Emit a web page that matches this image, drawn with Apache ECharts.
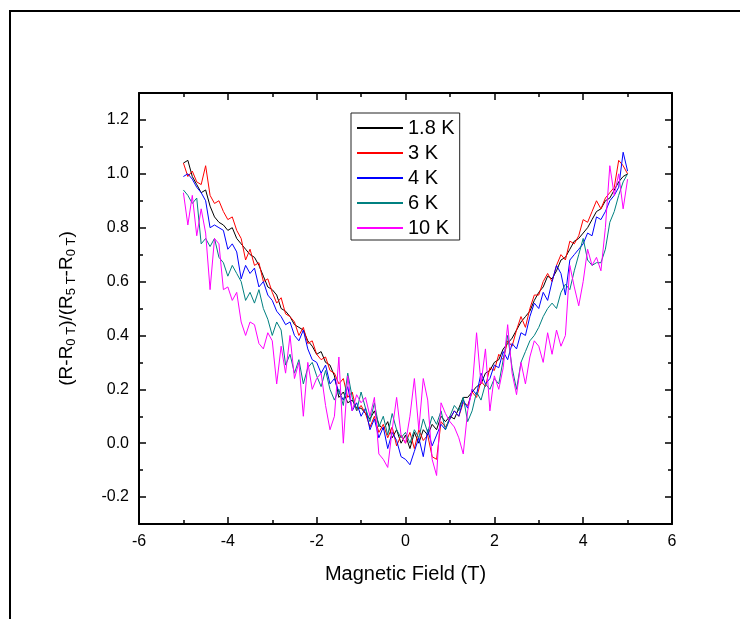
<!DOCTYPE html>
<html>
<head>
<meta charset="utf-8">
<script src="https://cdn.jsdelivr.net/npm/echarts@6/dist/echarts.min.js"></script>
<style>
  html, body { margin: 0; padding: 0; background: #fff; }
  #chart { width: 740px; height: 619px; }
</style>
</head>
<body>
<div id="chart"></div>
<script>
// Field sweep (T)
const fieldT = [
  -5.0, -4.9, -4.8, -4.7, -4.6, -4.5, -4.4, -4.3, -4.2, -4.1,
  -4.0, -3.9, -3.8, -3.7, -3.6, -3.5, -3.4, -3.3, -3.2, -3.1,
  -3.0, -2.9, -2.8, -2.7, -2.6, -2.5, -2.4, -2.3, -2.2, -2.1,
  -2.0, -1.9, -1.8, -1.7, -1.6, -1.5, -1.4, -1.3, -1.2, -1.1,
  -1.0, -0.9, -0.8, -0.7, -0.6, -0.5, -0.4, -0.3, -0.2, -0.1,
   0.0,  0.1,  0.2,  0.3,  0.4,  0.5,  0.6,  0.7,  0.8,  0.9,
   1.0,  1.1,  1.2,  1.3,  1.4,  1.5,  1.6,  1.7,  1.8,  1.9,
   2.0,  2.1,  2.2,  2.3,  2.4,  2.5,  2.6,  2.7,  2.8,  2.9,
   3.0,  3.1,  3.2,  3.3,  3.4,  3.5,  3.6,  3.7,  3.8,  3.9,
   4.0,  4.1,  4.2,  4.3,  4.4,  4.5,  4.6,  4.7,  4.8,  4.9,
   5.0
];

// Normalised magnetoresistance at each temperature
const mr_1p8K = [
  1.04, 1.05, 0.99, 0.96, 0.93, 0.94, 0.88, 0.84, 0.82, 0.81,
  0.79, 0.80, 0.76, 0.74, 0.72, 0.70, 0.69, 0.66, 0.62, 0.58,
  0.57, 0.55, 0.50, 0.49, 0.47, 0.44, 0.43, 0.42, 0.38, 0.36,
  0.33, 0.34, 0.30, 0.29, 0.25, 0.17, 0.19, 0.15, 0.16, 0.13,
  0.13, 0.11, 0.09, 0.12, 0.07, 0.05, 0.08, 0.02, 0.05, 0.00,
  0.03, -0.02, 0.04, 0.00, 0.05, 0.03, 0.07, 0.05, 0.10, 0.08,
  0.10, 0.09, 0.13, 0.17, 0.17, 0.19, 0.21, 0.22, 0.26, 0.27,
  0.30, 0.31, 0.35, 0.37, 0.39, 0.42, 0.45, 0.47, 0.49, 0.53,
  0.56, 0.58, 0.62, 0.61, 0.64, 0.68, 0.69, 0.72, 0.75, 0.76,
  0.78, 0.80, 0.83, 0.86, 0.87, 0.90, 0.91, 0.94, 0.97, 0.99,
  1.00
];
const mr_3K = [
  1.04, 0.99, 1.01, 0.97, 0.96, 1.03, 0.92, 0.89, 0.90, 0.86,
  0.83, 0.84, 0.79, 0.76, 0.68, 0.72, 0.66, 0.67, 0.60, 0.61,
  0.56, 0.52, 0.54, 0.48, 0.47, 0.45, 0.40, 0.43, 0.37, 0.38,
  0.33, 0.31, 0.32, 0.27, 0.26, 0.22, 0.24, 0.17, 0.19, 0.12,
  0.14, 0.11, 0.06, 0.10, 0.04, 0.07, 0.02, 0.06, -0.01, 0.03,
  0.00, 0.04, -0.02, 0.05, 0.01, 0.03, -0.05, -0.06, 0.08, 0.06,
  0.09, 0.12, 0.10, 0.15, 0.14, 0.19, 0.17, 0.23, 0.21, 0.28,
  0.27, 0.33, 0.31, 0.38, 0.36, 0.42, 0.47, 0.43, 0.50, 0.55,
  0.55, 0.60, 0.63, 0.60, 0.66, 0.70, 0.68, 0.75, 0.74, 0.77,
  0.83, 0.82, 0.86, 0.90, 0.87, 0.91, 0.93, 0.95, 1.05, 1.03,
  1.00
];
const mr_4K = [
  0.99, 1.00, 0.98, 0.95, 0.93, 0.90, 0.80, 0.81, 0.80, 0.79,
  0.72, 0.74, 0.71, 0.61, 0.66, 0.63, 0.65, 0.58, 0.60, 0.55,
  0.53, 0.49, 0.47, 0.44, 0.45, 0.40, 0.38, 0.42, 0.35, 0.31,
  0.30, 0.26, 0.29, 0.22, 0.24, 0.19, 0.16, 0.21, 0.12, 0.15,
  0.10, 0.13, 0.05, 0.09, 0.02, 0.06, -0.02, 0.04, 0.01, -0.05,
  -0.06, -0.08, -0.03, 0.02, -0.05, 0.05, -0.01, 0.03, 0.07, 0.05,
  0.09, 0.12, 0.10, 0.16, 0.13, 0.20, 0.18, 0.26, 0.22, 0.24,
  0.29, 0.28, 0.34, 0.31, 0.37, 0.35, 0.41, 0.40, 0.47, 0.52,
  0.50, 0.56, 0.53, 0.60, 0.66, 0.63, 0.55, 0.68, 0.70, 0.72,
  0.74, 0.78, 0.77, 0.84, 0.83, 0.86, 0.90, 0.92, 0.95, 1.08,
  1.01
];
const mr_6K = [
  0.94, 0.92, 0.89, 0.91, 0.74, 0.76, 0.73, 0.76, 0.69, 0.67,
  0.62, 0.66, 0.63, 0.60, 0.53, 0.56, 0.52, 0.57, 0.50, 0.46,
  0.40, 0.45, 0.42, 0.29, 0.33, 0.26, 0.31, 0.22, 0.28, 0.30,
  0.25, 0.21, 0.27, 0.20, 0.16, 0.20, 0.14, 0.26, 0.17, 0.12,
  0.19, 0.13, 0.08, 0.15, 0.06, 0.10, 0.03, 0.11, 0.05, 0.02,
  0.04, 0.00, 0.05, 0.02, 0.09, 0.04, 0.10, 0.07, 0.12, 0.05,
  0.10, 0.14, 0.12, 0.17, 0.08, 0.12, 0.19, 0.16, 0.22, 0.20,
  0.24, 0.22, 0.31, 0.40, 0.28, 0.20, 0.30, 0.34, 0.38, 0.40,
  0.43, 0.47, 0.50, 0.52, 0.50, 0.56, 0.59, 0.57, 0.64, 0.70,
  0.76, 0.68, 0.66, 0.67, 0.67, 0.72, 0.82, 0.86, 0.92, 0.97,
  1.00
];
const mr_10K = [
  0.93, 0.81, 0.92, 0.77, 0.87, 0.78, 0.57, 0.76, 0.74, 0.57,
  0.58, 0.53, 0.56, 0.45, 0.40, 0.45, 0.44, 0.37, 0.35, 0.41,
  0.38, 0.22, 0.36, 0.26, 0.40, 0.24, 0.30, 0.10, 0.30, 0.20,
  0.24, 0.26, 0.14, 0.05, 0.10, 0.32, 0.00, 0.25, 0.12, 0.18,
  0.15, 0.17, 0.10, 0.17, -0.04, -0.06, -0.09, 0.05, 0.17, 0.03,
  0.00, 0.10, 0.24, 0.05, 0.24, 0.16, -0.06, -0.12, 0.15, 0.11,
  0.08, 0.06, 0.02, -0.04, 0.12, 0.20, 0.41, 0.22, 0.35, 0.12,
  0.25, 0.20, 0.28, 0.44, 0.26, 0.18, 0.30, 0.22, 0.32, 0.38,
  0.36, 0.30, 0.41, 0.33, 0.42, 0.36, 0.40, 0.66, 0.58, 0.51,
  0.60, 0.72, 0.66, 0.69, 0.64, 0.80, 1.03, 0.92, 1.00, 0.87,
  0.98
];

const seriesNames = ['1.8 K', '3 K', '4 K', '6 K', '10 K'];
const seriesValues = [mr_1p8K, mr_3K, mr_4K, mr_6K, mr_10K];
const seriesColors = ['#000000', '#ff0000', '#0000ff', '#008080', '#ff00ff'];

// Axis ticks
const yMajorTicks = [-0.2, 0.0, 0.2, 0.4, 0.6, 0.8, 1.0, 1.2];
const yMinorTicks = [-0.1, 0.1, 0.3, 0.5, 0.7, 0.9, 1.1];

const FONT = '"Liberation Sans", Arial, Helvetica, sans-serif';
const chart = echarts.init(document.getElementById('chart'), null, { renderer: 'canvas' });

const xAxisBase = {
  type: 'value', min: -6, max: 6, interval: 2,
  axisLine: { show: true, onZero: false, lineStyle: { color: '#000', width: 2 } },
  axisTick: { show: true, inside: true, length: 7, lineStyle: { color: '#000', width: 1.5 } },
  minorTick: { show: true, splitNumber: 2, length: 4, lineStyle: { color: '#000', width: 1.5 } },
  splitLine: { show: false }, minorSplitLine: { show: false }
};

function yAxisPart(position, ticks, len, withLine, withLabels) {
  return {
    type: 'value', position: position, min: -0.3, max: 1.3,
    axisLine: { show: withLine, onZero: false, lineStyle: { color: '#000', width: 2 } },
    axisTick: { show: true, inside: true, length: len, customValues: ticks, lineStyle: { color: '#000', width: 1.5 } },
    axisLabel: withLabels ? {
      show: true, customValues: ticks, margin: 10, color: '#000', fontSize: 16, fontFamily: FONT,
      formatter: v => v.toFixed(1)
    } : { show: false },
    splitLine: { show: false }
  };
}

const yLeft = yAxisPart('left', yMajorTicks, 7, true, true);
yLeft.name = '(R-R{s|0 T})/(R{s|5 T}-R{s|0 T})';
yLeft.nameLocation = 'middle';
yLeft.nameGap = 61;
yLeft.nameTextStyle = {
  color: '#000', fontSize: 19, fontFamily: FONT, lineHeight: 23,
  rich: { s: { fontSize: 13, fontFamily: FONT, color: '#000', verticalAlign: 'bottom', lineHeight: 10 } }
};

const option = {
  animation: false,
  backgroundColor: '#fff',
  textStyle: { fontFamily: FONT },
  grid: { left: 139, top: 93, width: 533, height: 431, containLabel: false },
  legend: {
    orient: 'vertical', left: 351, top: 113,
    padding: [5, 5, 2, 6], itemGap: 5, itemWidth: 46, itemHeight: 2,
    icon: 'rect',
    borderColor: '#222', borderWidth: 1, backgroundColor: '#fff',
    textStyle: { color: '#000', fontSize: 20, fontFamily: FONT },
    data: seriesNames
  },
  xAxis: [
    Object.assign({}, xAxisBase, {
      position: 'bottom',
      axisLabel: { show: true, margin: 10, color: '#000', fontSize: 16, fontFamily: FONT },
      name: 'Magnetic Field (T)', nameLocation: 'middle', nameGap: 40,
      nameTextStyle: { color: '#000', fontSize: 20, fontFamily: FONT }
    }),
    Object.assign({}, xAxisBase, { position: 'top', axisLabel: { show: false } })
  ],
  yAxis: [
    yLeft,
    yAxisPart('left', yMinorTicks, 4, false, false),
    yAxisPart('right', yMajorTicks, 7, true, false),
    yAxisPart('right', yMinorTicks, 4, false, false)
  ],
  graphic: [{
    type: 'polyline', silent: true,
    shape: { points: [[10, 700], [10, 11], [760, 11]] },
    style: { stroke: '#000', lineWidth: 2, fill: null }
  }],
  series: seriesNames.map((name, k) => ({
    name: name, type: 'line', xAxisIndex: 0, yAxisIndex: 0,
    showSymbol: false, symbol: 'none',
    lineStyle: { color: seriesColors[k], width: 1 },
    itemStyle: { color: seriesColors[k] },
    data: fieldT.map((x, i) => [x, seriesValues[k][i]])
  }))
};

chart.setOption(option);
</script>
</body>
</html>
